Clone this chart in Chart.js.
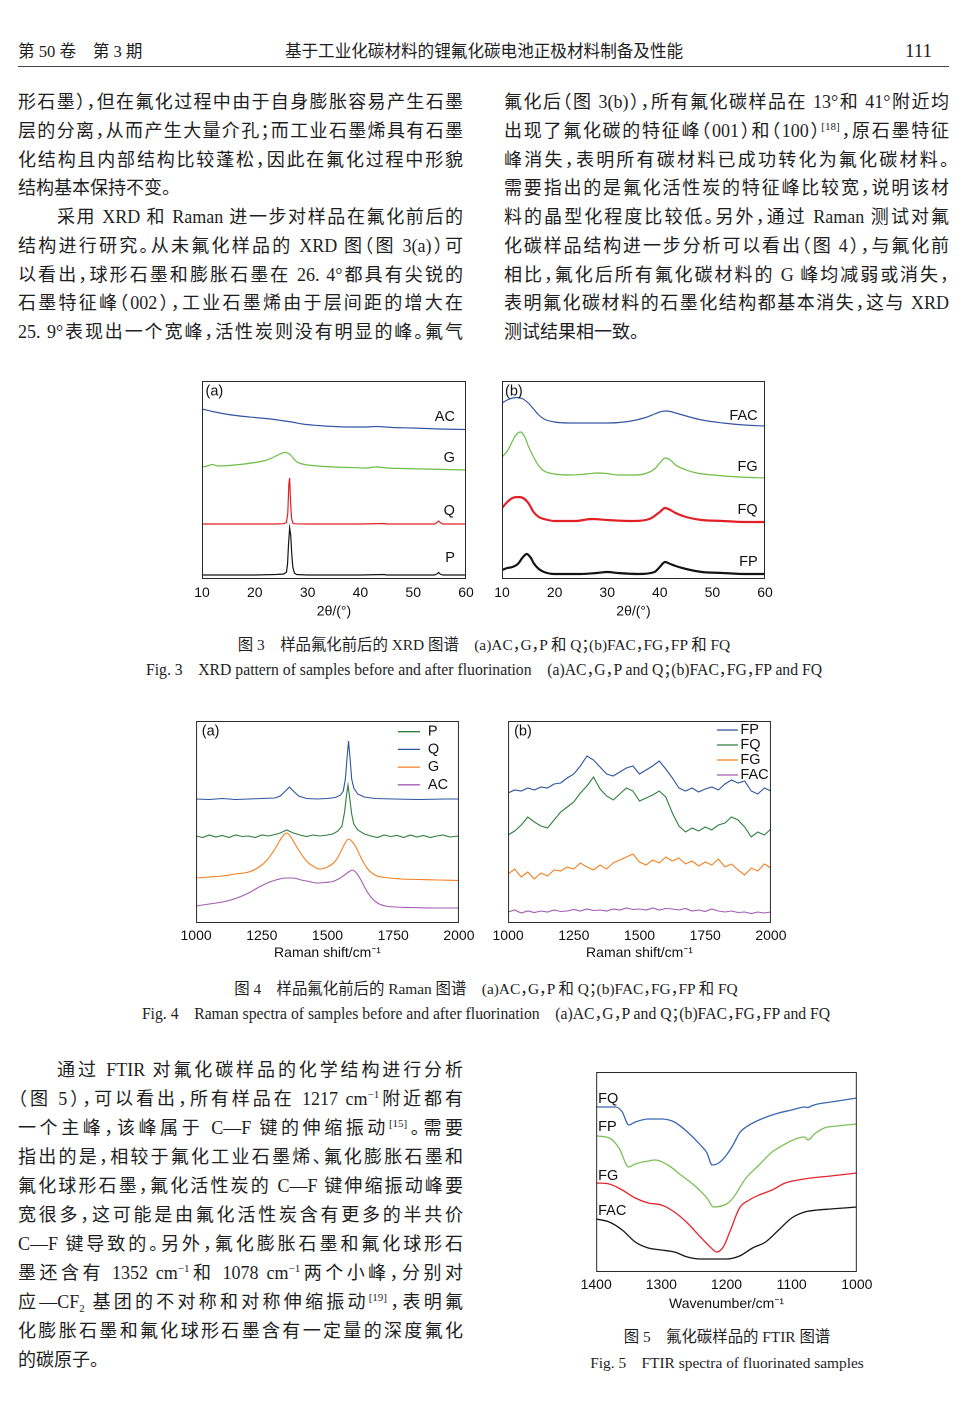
<!DOCTYPE html>
<html>
<head>
<meta charset="utf-8">
<script src="https://cdn.jsdelivr.net/npm/chart.js@4.4.1/dist/chart.umd.min.js"></script>
<style>
  body { margin: 0; background: #fff; width: 968px; height: 1409px; position: relative; overflow: hidden;
         font-family: "Liberation Serif", "Noto Sans CJK SC", serif; color: #1e1e1e; }
  .abs { position: absolute; }
  .hdr { top: 41.4px; font-size: 16.6px; line-height: 22px; white-space: nowrap; }
  .pno { top: 39px; font-size: 19px; line-height: 24px; }
  .rule { left: 18px; top: 66px; width: 931px; height: 0; border-top: 1.5px solid #444; }
  .col { position: absolute; width: 445px; font-size: 18px; font-feature-settings: "halt"; }
  .col .ln { text-align: justify; text-align-last: justify; }
  .col .ln.last { text-align-last: left; }
  .col .ln.ind { padding-left: 39px; }
  .top .ln { height: 28.75px; line-height: 28.75px; }
  .bot .ln { height: 29px; line-height: 29px; }
  sup { font-size: 11px; line-height: 0; vertical-align: 0; position: relative; top: -7px; }
  sub { font-size: 11px; line-height: 0; vertical-align: 0; position: relative; top: 4px; }
  .cap { line-height: 20px; white-space: nowrap; text-align: center; font-feature-settings: "halt"; }
  .cn { font-size: 15.4px; }
  .en { font-size: 15.7px; }
  .box { position: absolute; }
</style>
</head>
<body>

<div class="abs hdr" style="left:18px">第 50 卷　第 3 期</div>
<div class="abs hdr" style="left:0;width:968px;text-align:center">基于工业化碳材料的锂氟化碳电池正极材料制备及性能</div>
<div class="abs pno" style="left:905px">111</div>
<div class="abs rule"></div>

<div class="col top" style="left:18px;top:88.1px">
  <div class="ln">形石墨），但在氟化过程中由于自身膨胀容易产生石墨</div>
  <div class="ln">层的分离，从而产生大量介孔；而工业石墨烯具有石墨</div>
  <div class="ln">化结构且内部结构比较蓬松，因此在氟化过程中形貌</div>
  <div class="ln last">结构基本保持不变。</div>
  <div class="ln ind">采用 XRD 和 Raman 进一步对样品在氟化前后的</div>
  <div class="ln">结构进行研究。从未氟化样品的 XRD 图（图 3(a)）可</div>
  <div class="ln">以看出，球形石墨和膨胀石墨在 26. 4°都具有尖锐的</div>
  <div class="ln">石墨特征峰（002），工业石墨烯由于层间距的增大在</div>
  <div class="ln">25. 9°表现出一个宽峰，活性炭则没有明显的峰。氟气</div>
</div>

<div class="col top" style="left:504px;top:88.1px">
  <div class="ln">氟化后（图 3(b)），所有氟化碳样品在 13°和 41°附近均</div>
  <div class="ln">出现了氟化碳的特征峰（001）和（100）<sup>[18]</sup>，原石墨特征</div>
  <div class="ln">峰消失，表明所有碳材料已成功转化为氟化碳材料。</div>
  <div class="ln">需要指出的是氟化活性炭的特征峰比较宽，说明该材</div>
  <div class="ln">料的晶型化程度比较低。另外，通过 Raman 测试对氟</div>
  <div class="ln">化碳样品结构进一步分析可以看出（图 4），与氟化前</div>
  <div class="ln">相比，氟化后所有氟化碳材料的 G 峰均减弱或消失，</div>
  <div class="ln">表明氟化碳材料的石墨化结构都基本消失，这与 XRD</div>
  <div class="ln last">测试结果相一致。</div>
</div>

<div class="box" style="left:182px;top:371px;width:304px;height:253px"><canvas id="fig3a"></canvas></div>
<div class="box" style="left:482px;top:371px;width:303px;height:253px"><canvas id="fig3b"></canvas></div>

<div class="abs cap cn" style="left:0;width:968px;top:635.4px">图 3　样品氟化前后的 XRD 图谱　(a)AC，G，P 和 Q；(b)FAC，FG，FP 和 FQ</div>
<div class="abs cap en" style="left:0;width:968px;top:660px">Fig. 3　XRD pattern of samples before and after fluorination　(a)AC，G，P and Q；(b)FAC，FG，FP and FQ</div>

<div class="box" style="left:176px;top:711px;width:303px;height:257px"><canvas id="fig4a"></canvas></div>
<div class="box" style="left:488px;top:711px;width:303px;height:257px"><canvas id="fig4b"></canvas></div>

<div class="abs cap cn" style="left:2px;width:968px;top:979.4px">图 4　样品氟化前后的 Raman 图谱　(a)AC，G，P 和 Q；(b)FAC，FG，FP 和 FQ</div>
<div class="abs cap en" style="left:2px;width:968px;top:1004px">Fig. 4　Raman spectra of samples before and after fluorination　(a)AC，G，P and Q；(b)FAC，FG，FP and FQ</div>

<div class="col bot" style="left:18px;top:1056.4px">
  <div class="ln ind">通过 FTIR 对氟化碳样品的化学结构进行分析</div>
  <div class="ln">（图 5），可以看出，所有样品在 1217 cm<sup>−1</sup>附近都有</div>
  <div class="ln">一个主峰，该峰属于 C—F 键的伸缩振动<sup>[15]</sup>。需要</div>
  <div class="ln">指出的是，相较于氟化工业石墨烯、氟化膨胀石墨和</div>
  <div class="ln">氟化球形石墨，氟化活性炭的 C—F 键伸缩振动峰要</div>
  <div class="ln">宽很多，这可能是由氟化活性炭含有更多的半共价</div>
  <div class="ln">C—F 键导致的。另外，氟化膨胀石墨和氟化球形石</div>
  <div class="ln">墨还含有 1352 cm<sup>−1</sup>和 1078 cm<sup>−1</sup>两个小峰，分别对</div>
  <div class="ln">应—CF<sub>2</sub> 基团的不对称和对称伸缩振动<sup>[19]</sup>，表明氟</div>
  <div class="ln">化膨胀石墨和氟化球形石墨含有一定量的深度氟化</div>
  <div class="ln last">的碳原子。</div>
</div>

<div class="box" style="left:576px;top:1062px;width:301px;height:255px"><canvas id="fig5"></canvas></div>

<div class="abs cap cn" style="left:527px;width:400px;top:1327px">图 5　氟化碳样品的 FTIR 图谱</div>
<div class="abs cap cn" style="left:527px;width:400px;top:1353px">Fig. 5　FTIR spectra of fluorinated samples</div>

<script>
// ---- Fig. 3(a) XRD before fluorination, 2theta in degrees ----
const xrdAcX = [10, 12, 15, 18, 20, 23, 25, 27, 29, 32, 35, 38, 41, 43, 46, 50, 55, 60];
const xrdAcY = [172, 169.5, 166.5, 164.5, 163.5, 162, 160.5, 159, 157, 155.5, 154.5, 154, 154, 154.5, 153.5, 153, 152, 151.5];
const xrdGX = [10, 11, 12, 13, 15, 18, 20, 22, 23, 24, 25, 25.6, 26.2, 26.8, 27.4, 28, 29, 30, 32, 35, 38, 41, 43, 45, 48, 52, 56, 60];
const xrdGY = [114, 115, 116.5, 115, 115.5, 117, 118.5, 120.5, 122.5, 125, 127.5, 128.5, 128, 126, 122, 119, 117, 116, 115, 114, 113.5, 113, 114, 113, 112.5, 112, 111.5, 111];
const xrdQX = [10, 15, 20, 24, 25.5, 26.0, 26.25, 26.45, 26.6, 26.75, 26.95, 27.2, 27.6, 30, 35, 40, 44.5, 45, 50, 54, 54.5, 54.8, 55.1, 55.6, 60];
const xrdQY = [57, 57, 57, 57, 57.3, 58.5, 68, 97, 103, 82, 63, 58, 57.2, 57, 57, 57, 57.5, 57, 57, 57, 58.5, 60, 58.5, 57, 57];
const xrdPX = [10, 15, 20, 24, 25.5, 26.0, 26.2, 26.4, 26.6, 26.8, 27.0, 27.2, 27.5, 27.9, 30, 35, 40, 44.5, 45, 50, 54, 54.5, 54.8, 55.1, 55.6, 60];
const xrdPY = [6, 6, 6, 6.5, 7, 9, 17, 38, 53, 46, 27, 14, 8, 6.5, 6, 6, 6, 6.5, 6, 6, 6, 7, 8.5, 7, 6, 6];

// ---- Fig. 3(b) XRD after fluorination ----
const xrdFacX = [10, 11, 12, 13, 14, 15, 16, 17, 18, 20, 23, 26, 30, 34, 37, 39, 40, 41, 42, 43, 45, 48, 52, 56, 60];
const xrdFacY = [178, 181, 183, 183.5, 182, 178, 172, 166, 162, 159, 158, 158, 158, 159.5, 163, 167, 169, 170, 169.5, 168, 165, 161, 158, 156, 155];
const xrdFgX = [10, 11, 12, 12.5, 13, 13.5, 14, 14.5, 15, 16, 17, 18, 20, 23, 26, 28, 30, 32, 35, 37, 39, 40, 41, 42, 43, 45, 47, 50, 55, 60];
const xrdFgY = [124, 130, 140, 145, 148, 149, 147, 142, 135, 124, 115, 110, 107, 106, 107, 108, 107.5, 106, 106, 107, 112, 118, 123, 121, 116, 111, 108, 106, 104, 103];
const xrdFqX = [10, 11, 12, 13, 14, 15, 16, 17, 18, 20, 24, 27, 30, 35, 38, 40, 41, 42, 43, 45, 48, 52, 56, 60];
const xrdFqY = [73, 79, 83, 84, 83, 78, 69, 64, 62, 60, 60, 62, 61, 60, 62, 69, 73, 71, 68, 64, 61, 60, 59, 59];
const xrdFpX = [10, 11, 12, 13, 14, 14.7, 15.5, 16, 17, 18, 20, 25, 28, 30, 32, 36, 39, 40, 41, 42, 43, 45, 48, 52, 56, 60];
const xrdFpY = [11, 13, 14, 17, 24, 27, 23, 18, 12, 9, 7, 7, 8, 9, 8, 7, 9, 14, 19, 17, 15, 12, 9, 8, 7, 7];

// ---- Fig. 4(a) Raman before fluorination, cm-1 ----
const ramPX = [1000, 1025, 1050, 1075, 1100, 1125, 1150, 1175, 1200, 1225, 1250, 1275, 1300, 1320, 1345, 1370, 1395, 1420, 1445, 1470, 1500, 1520, 1540, 1555, 1565, 1572, 1578, 1584, 1592, 1600, 1615, 1640, 1665, 1690, 1715, 1740, 1765, 1790, 1815, 1840, 1865, 1890, 1915, 1940, 1965, 2000];
const ramPY = [88, 86.5, 89, 87, 88.5, 86.5, 89, 87.5, 88, 86.5, 89, 88, 89.5, 91, 94, 91, 89, 87.5, 89, 88, 89, 90, 93, 98, 112, 128, 139, 127, 110, 100, 94, 90, 88, 86.5, 89, 87.5, 88.5, 86.5, 89, 87, 88.5, 86.5, 88, 89, 87, 88];
const ramQX = [1000, 1050, 1100, 1150, 1200, 1250, 1300, 1320, 1340, 1355, 1370, 1390, 1420, 1460, 1500, 1530, 1550, 1560, 1568, 1574, 1580, 1586, 1592, 1600, 1615, 1640, 1680, 1750, 1850, 1950, 2000];
const ramQY = [125, 124.5, 125.5, 124.5, 125, 125.5, 126, 128, 133, 137, 133, 128, 125.5, 125, 125.5, 126.5, 129, 133, 145, 165, 183, 165, 145, 136, 130, 127, 125.5, 125, 124.5, 125, 125];
const ramGX = [1000, 1050, 1100, 1150, 1200, 1240, 1270, 1300, 1320, 1335, 1345, 1355, 1370, 1390, 1420, 1450, 1470, 1500, 1530, 1550, 1565, 1580, 1595, 1610, 1630, 1650, 1680, 1720, 1780, 1850, 1920, 2000];
const ramGY = [46, 47, 48, 50, 52, 57, 64, 75, 84, 89.5, 91, 89, 83, 74, 63, 57, 55, 57, 63, 72, 80, 85, 82, 76, 65, 56, 49, 46.5, 45, 44.5, 44, 43.5];
const ramAcX = [1000, 1050, 1100, 1150, 1200, 1240, 1280, 1310, 1340, 1370, 1400, 1430, 1460, 1490, 1520, 1545, 1565, 1580, 1595, 1610, 1625, 1645, 1665, 1690, 1720, 1760, 1820, 1900, 2000];
const ramAcY = [18, 20, 22, 25.5, 31, 37, 42, 44.5, 46, 46, 44, 42.5, 41, 41.5, 42.5, 45.5, 49, 52, 54, 51, 45, 35, 27, 21, 18, 17, 16.5, 16, 16];

// ---- Fig. 4(b) Raman after fluorination, sampled every 25 cm-1 ----
const ramFX = [1000, 1025, 1050, 1075, 1100, 1125, 1150, 1175, 1200, 1225, 1250, 1275, 1300, 1325, 1350, 1375, 1400, 1425, 1450, 1475, 1500, 1525, 1550, 1575, 1600, 1625, 1650, 1675, 1700, 1725, 1750, 1775, 1800, 1825, 1850, 1875, 1900, 1925, 1950, 1975, 2000];
const ramFpY = [131, 134, 133, 136, 134, 137, 136, 140, 141, 146, 150, 158, 168, 164, 157, 150, 148, 152, 156, 158, 150, 154, 158, 163, 155, 146, 136, 133, 136, 132, 135, 137, 134, 140, 144, 141, 143, 133, 130, 136, 133];
const ramFqY = [89, 93, 99, 107, 102, 98, 96, 104, 112, 117, 122, 131, 138, 147, 135, 128, 124, 130, 136, 133, 123, 126, 129, 133, 127, 111, 98, 92, 96, 93, 97, 94, 99, 101, 107, 104, 97, 87, 92, 89, 95];
const ramFgY = [50, 55, 47, 52, 45, 51, 48, 54, 53, 57, 55, 61, 57, 54, 59, 55, 61, 64, 67, 70, 62, 59, 64, 61, 67, 63, 66, 60, 63, 58, 62, 59, 65, 57, 60, 54, 49, 56, 53, 60, 56];
const ramFacY = [12, 14, 11, 13, 11.5, 13, 12, 14, 12.5, 13, 14.5, 13, 15, 13.5, 14, 13, 15, 14, 16, 14.5, 15, 14, 16, 14, 15.5, 15, 14, 15.5, 13, 14, 12.5, 15, 13, 12, 13, 11.5, 12, 10.5, 12, 11, 12];

// ---- Fig. 5 FTIR, wavenumber cm-1 ----
const irFqX = [1400, 1370, 1360, 1350, 1340, 1320, 1300, 1280, 1260, 1240, 1230, 1222, 1212, 1200, 1190, 1180, 1170, 1150, 1120, 1100, 1080, 1075, 1070, 1060, 1040, 1020, 1000];
const irFqY = [165, 165, 160, 147, 150, 153, 153, 150, 140, 127, 119, 107, 109, 117, 127, 139, 145, 152, 159, 162, 165, 164.5, 166, 168, 170, 172, 174];
const irFpX = [1400, 1380, 1365, 1350, 1340, 1320, 1310, 1290, 1270, 1250, 1230, 1220, 1200, 1190, 1170, 1150, 1130, 1110, 1090, 1080, 1075, 1065, 1050, 1030, 1000];
const irFpY = [136, 134, 124, 105, 108, 111, 112, 107, 97, 87, 74, 65, 68, 74, 94, 107, 120, 128, 134, 135, 132, 138, 144, 146, 148];
const irFgX = [1400, 1380, 1360, 1340, 1320, 1300, 1280, 1260, 1240, 1225, 1215, 1205, 1195, 1180, 1165, 1150, 1130, 1110, 1090, 1070, 1040, 1000];
const irFgY = [89, 88, 82, 74, 69, 67, 60, 49, 35, 25, 20, 25, 40, 64, 72, 77, 82, 89, 92, 94, 96, 99];
const irFacX = [1400, 1380, 1360, 1340, 1320, 1300, 1280, 1260, 1240, 1220, 1200, 1180, 1160, 1140, 1120, 1100, 1080, 1060, 1040, 1020, 1000];
const irFacY = [53, 50, 42, 30, 24, 22, 20, 15, 13, 13, 13, 16, 24, 30, 42, 54, 60, 62, 63, 64, 65];

const chartFont = '"Liberation Sans", Arial, sans-serif';

function pts(xs, ys) {
    return xs.map(function (x, i) { return { x: x, y: ys[i] }; });
}

// frame, panel letter, in-plot curve names and the small legend
const panelPlugin = {
    id: 'panel',
    afterDatasetsDraw: function (chart, args, opts) {
        const ctx = chart.ctx;
        const a = chart.chartArea;
        const xs = chart.scales.x, ys = chart.scales.y;
        ctx.save();
        ctx.strokeStyle = '#2a2a2a';
        ctx.lineWidth = 1;
        ctx.strokeRect(a.left + 0.5, a.top + 0.5, a.right - a.left - 1, a.bottom - a.top - 1);
        ctx.font = '14.5px ' + chartFont;
        ctx.fillStyle = '#111';
        ctx.textBaseline = 'middle';
        if (opts.tag) {
            ctx.textAlign = 'left';
            ctx.fillText(opts.tag, a.left + opts.tagDx, a.top + opts.tagDy);
        }
        chart.data.datasets.forEach(function (ds) {
            if (!ds.tagAt) return;
            ctx.textAlign = ds.tagAlign || 'right';
            ctx.fillText(ds.label, xs.getPixelForValue(ds.tagAt[0]), ys.getPixelForValue(ds.tagAt[1]));
        });
        if (opts.legend) {
            const lg = opts.legend;
            chart.data.datasets.forEach(function (ds, i) {
                const y = a.top + lg.top + i * lg.step;
                ctx.strokeStyle = ds.borderColor;
                ctx.lineWidth = 1.3;
                ctx.beginPath();
                ctx.moveTo(a.right + lg.lineFrom, y);
                ctx.lineTo(a.right + lg.lineTo, y);
                ctx.stroke();
                ctx.textAlign = 'left';
                ctx.fillText(ds.label, a.right + lg.textAt, y);
            });
        }
        ctx.restore();
    }
};

window.spectraCharts = {
    render: function (canvasId, cfg) {
        const ctx = document.getElementById(canvasId);
        if (!ctx) return;

        if (ctx._chart) {
            ctx._chart.destroy();
        }

        ctx._chart = new Chart(ctx, {
            type: 'line',
            data: {
                datasets: cfg.series.map(function (s) {
                    return {
                        label: s.label,
                        data: pts(s.x, s.y),
                        borderColor: s.color,
                        borderWidth: s.width || 1.2,
                        pointRadius: 0,
                        fill: false,
                        cubicInterpolationMode: s.smooth ? 'monotone' : 'default',
                        tension: 0,
                        tagAt: s.tagAt,
                        tagAlign: s.tagAlign
                    };
                })
            },
            options: {
                responsive: true,
                maintainAspectRatio: false,
                animation: false,
                devicePixelRatio: 2,
                events: [],
                layout: { padding: { left: 20, right: 20, top: 10, bottom: 0 } },
                plugins: {
                    legend: { display: false },
                    tooltip: { enabled: false },
                    panel: cfg.panel
                },
                scales: {
                    x: {
                        type: 'linear',
                        min: cfg.xMin,
                        max: cfg.xMax,
                        reverse: !!cfg.reverse,
                        afterFit: function (scale) { scale.height = 45; },
                        grid: { display: false, drawTicks: false },
                        border: { display: false },
                        ticks: {
                            stepSize: cfg.xStep,
                            padding: cfg.tickPad,
                            color: '#111',
                            autoSkip: false,
                            maxRotation: 0,
                            font: { family: chartFont, size: 14 },
                            callback: function (v) { return String(v); }
                        },
                        title: {
                            display: true,
                            text: cfg.xTitle,
                            color: '#111',
                            font: { family: chartFont, size: 14 },
                            padding: { top: 0, bottom: cfg.titlePad }
                        }
                    },
                    y: { display: false, min: cfg.yMin, max: cfg.yMax }
                }
            },
            plugins: [panelPlugin]
        });
    }
};

const blue3 = '#3457a4', green3 = '#6cbd45', red3 = '#e31f26', black3 = '#141414';
const blue4 = '#2d54a0', green4 = '#2f7f3e', orange4 = '#f47f20', purple4 = '#a35cb5';

spectraCharts.render('fig3a', {
    xMin: 10, xMax: 60, xStep: 10, yMin: 2, yMax: 200, xTitle: '2θ/(°)', tickPad: 5.9, titlePad: 3.9,
    panel: { tag: '(a)', tagDx: 3.5, tagDy: 10.7 },
    series: [
        { label: 'AC', x: xrdAcX, y: xrdAcY, color: blue3, smooth: true, tagAt: [57.9, 164] },
        { label: 'G', x: xrdGX, y: xrdGY, color: green3, smooth: true, tagAt: [57.9, 123] },
        { label: 'Q', x: xrdQX, y: xrdQY, color: red3, tagAt: [57.9, 70] },
        { label: 'P', x: xrdPX, y: xrdPY, color: black3, tagAt: [57.9, 23] }
    ]
});

spectraCharts.render('fig3b', {
    xMin: 10, xMax: 60, xStep: 10, yMin: 2, yMax: 200, xTitle: '2θ/(°)', tickPad: 5.9, titlePad: 3.9,
    panel: { tag: '(b)', tagDx: 3, tagDy: 10.7 },
    series: [
        { label: 'FAC', x: xrdFacX, y: xrdFacY, color: blue3, smooth: true, tagAt: [58.6, 165] },
        { label: 'FG', x: xrdFgX, y: xrdFgY, color: green3, smooth: true, tagAt: [58.6, 114] },
        { label: 'FQ', x: xrdFqX, y: xrdFqY, color: red3, width: 2.2, smooth: true, tagAt: [58.6, 71] },
        { label: 'FP', x: xrdFpX, y: xrdFpY, color: black3, width: 2.2, smooth: true, tagAt: [58.6, 19] }
    ]
});

spectraCharts.render('fig4a', {
    xMin: 1000, xMax: 2000, xStep: 250, yMin: 1, yMax: 203, xTitle: 'Raman shift/cm⁻¹', tickPad: 4.5, titlePad: 6.3,
    panel: { tag: '(a)', tagDx: 5.7, tagDy: 10.7,
             legend: { lineFrom: -61, lineTo: -39, textAt: -31, top: 10.7, step: 17.7 } },
    series: [
        { label: 'P', x: ramPX, y: ramPY, color: green4, width: 1.1 },
        { label: 'Q', x: ramQX, y: ramQY, color: blue4, width: 1.1 },
        { label: 'G', x: ramGX, y: ramGY, color: orange4, width: 1.1, smooth: true },
        { label: 'AC', x: ramAcX, y: ramAcY, color: purple4, width: 1.1, smooth: true }
    ]
});

spectraCharts.render('fig4b', {
    xMin: 1000, xMax: 2000, xStep: 250, yMin: 1, yMax: 203, xTitle: 'Raman shift/cm⁻¹', tickPad: 4.5, titlePad: 6.3,
    panel: { tag: '(b)', tagDx: 6, tagDy: 10.7,
             legend: { lineFrom: -54, lineTo: -33, textAt: -30.5, top: 9, step: 15 } },
    series: [
        { label: 'FP', x: ramFX, y: ramFpY, color: blue4, width: 1.1 },
        { label: 'FQ', x: ramFX, y: ramFqY, color: green4, width: 1.1 },
        { label: 'FG', x: ramFX, y: ramFgY, color: orange4, width: 1.1 },
        { label: 'FAC', x: ramFX, y: ramFacY, color: purple4, width: 1.1 }
    ]
});

spectraCharts.render('fig5', {
    xMin: 1000, xMax: 1400, xStep: 100, reverse: true, yMin: 0, yMax: 200, xTitle: 'Wavenumber/cm⁻¹', tickPad: 4.6, titlePad: 4.3,
    panel: {},
    series: [
        { label: 'FQ', x: irFqX, y: irFqY, color: '#3a66b0', width: 1.3, smooth: true, tagAt: [1397, 173], tagAlign: 'left' },
        { label: 'FP', x: irFpX, y: irFpY, color: '#7cbf57', width: 1.3, smooth: true, tagAt: [1397, 145], tagAlign: 'left' },
        { label: 'FG', x: irFgX, y: irFgY, color: '#e4262c', width: 1.3, smooth: true, tagAt: [1397, 96], tagAlign: 'left' },
        { label: 'FAC', x: irFacX, y: irFacY, color: '#151515', width: 1.3, smooth: true, tagAt: [1397, 61], tagAlign: 'left' }
    ]
});
</script>
</body>
</html>
